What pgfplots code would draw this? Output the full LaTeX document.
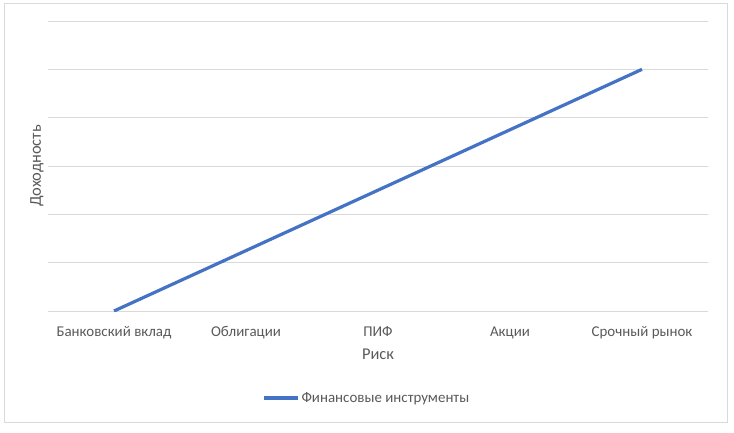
\documentclass[border=0pt]{standalone}
\usepackage{pgfplots}
\pgfplotsset{compat=1.18}
\usepackage{fontspec}
\setmainfont{Carlito}
\definecolor{linieblau}{HTML}{4472C4}
\definecolor{gitter}{HTML}{D9D9D9}
\definecolor{schrift}{HTML}{595959}
\begin{document}
\begin{tikzpicture}
\begin{axis}[
    scale only axis,
    width=660bp, height=290bp,
    xmin=-0.5, xmax=4.5,
    ymin=0, ymax=6,
    xtick={0,1,2,3,4},
    xticklabels={Банковский вклад, Облигации, ПИФ, Акции, Срочный рынок},
    major x tick style={draw=none},
    extra x ticks={-0.5,0.5,1.5,2.5,3.5,4.5},
    extra x tick labels={},
    extra x tick style={tick align=outside, major tick length=4bp,
        major tick style={draw=gitter, line width=0.75bp}, grid=none},
    ytick={0,1,2,3,4,5,6},
    yticklabels={},
    major y tick style={draw=none},
    ymajorgrids,
    grid style={gitter, line width=0.75bp},
    axis line style={draw=none},
    tick label style={font=\fontsize{15}{17}\selectfont, text=schrift},
    xticklabel style={anchor=base, yshift=-25bp},
    xlabel={Риск},
    ylabel={Доходность},
    label style={font=\fontsize{16.5}{19}\selectfont, text=schrift},
    xlabel style={at={(axis description cs:0.5,0)}, anchor=base, yshift=-48bp},
    ylabel style={at={(axis description cs:0,0.5)}, anchor=center, rotate=0, yshift=11bp},
    legend style={at={(axis description cs:0.483,0)}, anchor=center,
        yshift=-87bp, draw=none, fill=none,
        font=\fontsize{15}{17}\selectfont, text=schrift},
    legend image code/.code={\draw[#1] (0bp,0bp) -- (34bp,0bp);},
]
\addplot[linieblau, line width=3.2bp] coordinates {
    (0,0) (1,1.25) (2,2.5) (3,3.75) (4,5)
};
\addlegendentry{Финансовые инструменты}
\end{axis}
\draw[gitter, line width=0.75bp] ([xshift=-44bp,yshift=-111bp]current axis.south west) rectangle ([xshift=19bp,yshift=18bp]current axis.north east);
\path[use as bounding box] ([xshift=-48bp,yshift=-121bp]current axis.south west) rectangle ([xshift=26bp,yshift=21bp]current axis.north east);
\end{tikzpicture}
\end{document}
